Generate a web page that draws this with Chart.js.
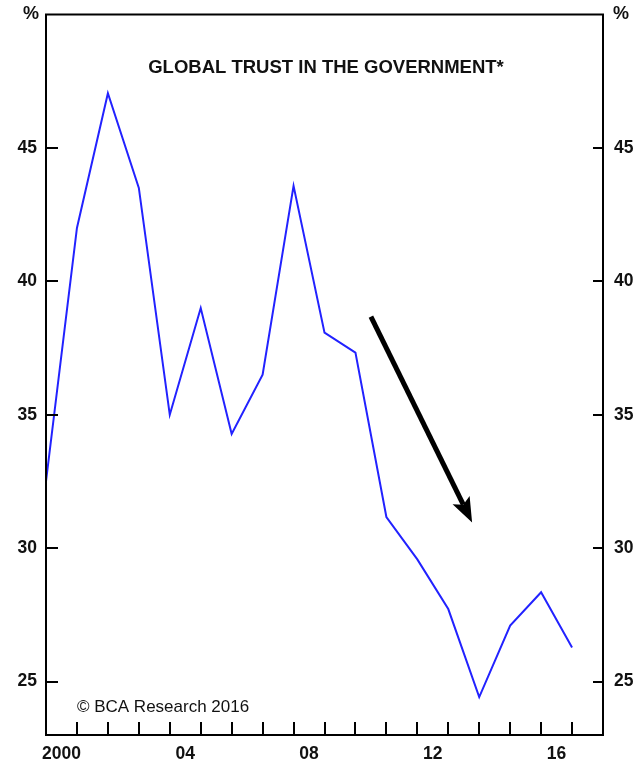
<!DOCTYPE html>
<html lang="en">
<head>
  <meta charset="UTF-8" />
  <title>Global trust in the government</title>
  <script src="https://cdn.jsdelivr.net/npm/chart.js"></script>
  <style>
    body, html { margin: 0; padding: 0; background: #fff; }
    #wrap { width: 639px; height: 765px; }
  </style>
</head>
<body>
  <div id="wrap"><canvas id="trustChart" width="639" height="765"></canvas></div>

  <script>
    // data (points sit on the year boundaries)
    const years = [2000, 2001, 2002, 2003, 2004, 2005, 2006, 2007, 2008, 2009, 2010, 2011, 2012, 2013, 2014, 2015, 2016, 2017];
    const trust = [32.5, 42.0, 47.05, 43.5, 35.0, 39.0, 34.28, 36.5, 43.58, 38.08, 37.33, 31.17, 29.58, 27.72, 24.42, 27.1, 28.35, 26.28];

    const xLabelYears = [2000, 2004, 2008, 2012, 2016];
    const xLabels = ['2000', '04', '08', '12', '16'];
    const xTickYears = [2001, 2002, 2003, 2004, 2005, 2006, 2007, 2008, 2009, 2010, 2011, 2012, 2013, 2014, 2015, 2016, 2017];
    const yTicks = [25, 30, 35, 40, 45];

    const chartTitle = 'GLOBAL TRUST IN THE GOVERNMENT*';
    const sourceNote = '\u00A9 BCA Research 2016';
    const arrowFrom = [2010.5, 38.68];
    const arrowTo = [2013.77, 30.96];

    const FONT = '"Liberation Sans", Arial, sans-serif';

    // box, inner tick marks, title, note and arrow
    const decor = {
      id: 'decor',
      afterDraw(chart) {
        const ctx = chart.ctx;
        const a = chart.chartArea;
        const x = chart.scales.x, y = chart.scales.y;
        ctx.save();
        ctx.strokeStyle = '#000';
        ctx.lineWidth = 2;
        ctx.strokeRect(a.left, a.top, a.right - a.left, a.bottom - a.top);

        ctx.beginPath();
        xTickYears.forEach(v => {
          const px = Math.round(x.getPixelForValue(v));
          ctx.moveTo(px, a.bottom);
          ctx.lineTo(px, a.bottom - 13);
        });
        yTicks.forEach(v => {
          const py = Math.round(y.getPixelForValue(v));
          ctx.moveTo(a.left, py);
          ctx.lineTo(a.left + 12, py);
          ctx.moveTo(a.right, py);
          ctx.lineTo(a.right - 10, py);
        });
        ctx.stroke();

        ctx.fillStyle = '#111';
        ctx.font = 'bold 18px ' + FONT;
        ctx.textAlign = 'center';
        ctx.textBaseline = 'middle';
        ctx.fillText('%', 31, a.top);
        ctx.fillText('%', 621, a.top);

        ctx.font = 'bold 18.5px ' + FONT;
        ctx.fillText(chartTitle, 326, 68);

        ctx.font = '17px ' + FONT;
        ctx.textAlign = 'left';
        ctx.fillText(sourceNote, x.getPixelForValue(2001), y.getPixelForValue(24.02));

        // arrow
        const x0 = x.getPixelForValue(arrowFrom[0]), y0 = y.getPixelForValue(arrowFrom[1]);
        const x1 = x.getPixelForValue(arrowTo[0]), y1 = y.getPixelForValue(arrowTo[1]);
        const ang = Math.atan2(y1 - y0, x1 - x0);
        const headLen = 25, headW = 9.5, notch = 5;
        const bx = x1 - headLen * Math.cos(ang), by = y1 - headLen * Math.sin(ang);
        ctx.strokeStyle = '#000';
        ctx.lineWidth = 5;
        ctx.beginPath();
        ctx.moveTo(x0, y0);
        ctx.lineTo(bx + notch * Math.cos(ang), by + notch * Math.sin(ang));
        ctx.stroke();
        ctx.fillStyle = '#000';
        ctx.beginPath();
        ctx.moveTo(x1, y1);
        ctx.lineTo(bx + headW * Math.sin(ang), by - headW * Math.cos(ang));
        ctx.lineTo(bx + notch * Math.cos(ang), by + notch * Math.sin(ang));
        ctx.lineTo(bx - headW * Math.sin(ang), by + headW * Math.cos(ang));
        ctx.closePath();
        ctx.fill();
        ctx.restore();
      }
    };

    const tickFont = { family: FONT, size: 17.5, weight: 'bold' };

    // fixed axis widths, no label overhang padding
    const fitY = w => s => { s.width = w; s.paddingTop = 0; s.paddingBottom = 0; };

    new Chart(document.getElementById('trustChart'), {
      type: 'line',
      data: {
        datasets: [{
          data: years.map((yr, i) => ({ x: yr, y: trust[i] })),
          borderColor: '#2222ff',
          borderWidth: 2,
          pointRadius: 0,
          tension: 0,
          fill: false
        }]
      },
      options: {
        responsive: false,
        animation: false,
        events: [],
        layout: { padding: { top: 14.5, right: 0, bottom: 0, left: 0 } },
        plugins: { legend: { display: false }, tooltip: { enabled: false }, title: { display: false } },
        scales: {
          x: {
            type: 'linear',
            min: 2000,
            max: 2018,
            afterBuildTicks: s => { s.ticks = xLabelYears.map(v => ({ value: v + 0.5 })); },
            afterFit: s => { s.height = 30; s.paddingLeft = 0; s.paddingRight = 0; },
            grid: { display: false, drawTicks: false },
            border: { display: false },
            ticks: {
              autoSkip: false,
              maxRotation: 0,
              padding: 9,
              color: '#111',
              font: tickFont,
              callback: v => xLabels[xLabelYears.indexOf(Math.round(v - 0.5))]
            }
          },
          y: {
            position: 'left',
            min: 23,
            max: 50,
            afterBuildTicks: s => { s.ticks = yTicks.map(v => ({ value: v })); },
            afterFit: fitY(46),
            grid: { display: false, drawTicks: false },
            border: { display: false },
            ticks: { padding: 9, color: '#111', font: tickFont }
          },
          y2: {
            position: 'right',
            min: 23,
            max: 50,
            afterBuildTicks: s => { s.ticks = yTicks.map(v => ({ value: v })); },
            afterFit: fitY(36),
            grid: { display: false, drawTicks: false },
            border: { display: false },
            ticks: { padding: 11, color: '#111', font: tickFont }
          }
        }
      },
      plugins: [decor]
    });
  </script>
</body>
</html>
